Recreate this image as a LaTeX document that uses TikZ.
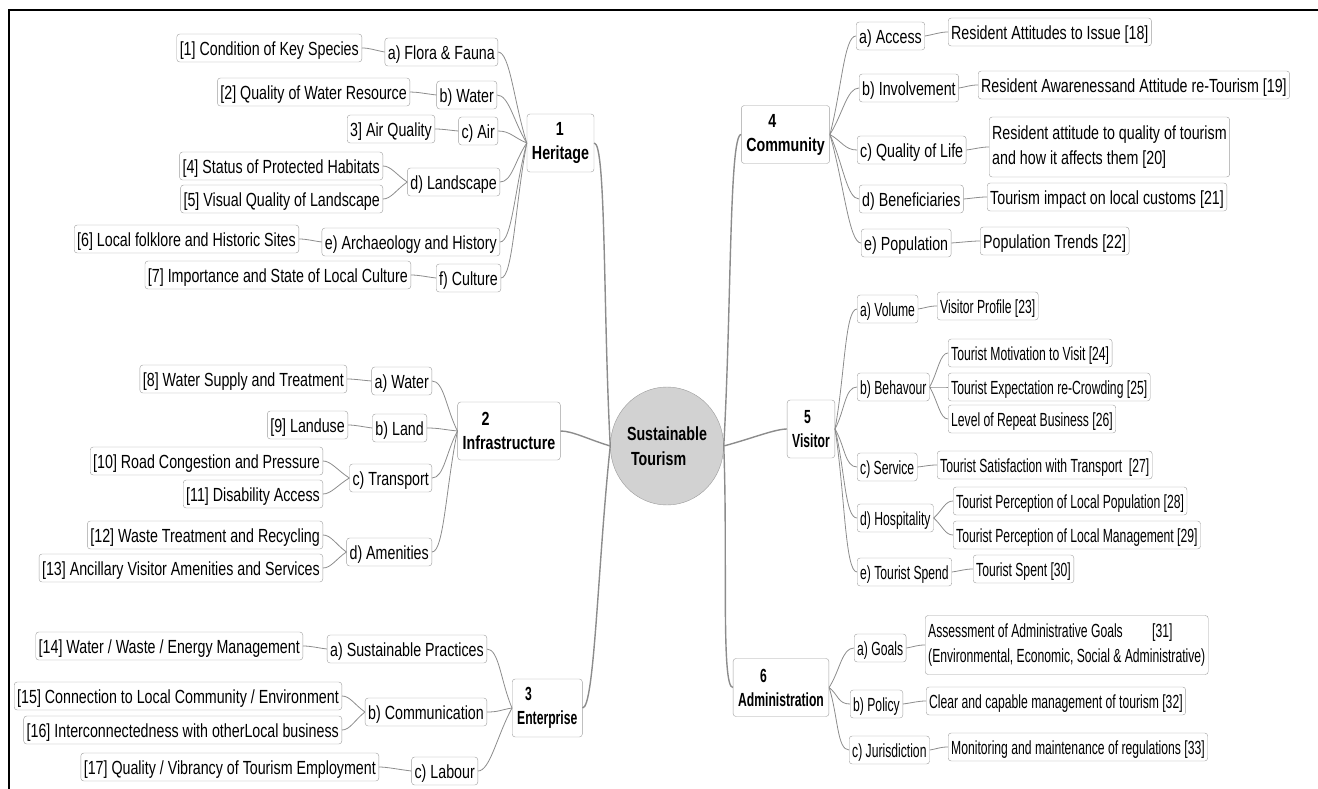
\documentclass[tikz,border=0pt]{standalone}
\usepackage{fontspec}
\setmainfont{Liberation Sans}[FakeStretch=0.75]
\newfontfamily\narrowfont{Liberation Sans}[FakeStretch=0.64]
\usetikzlibrary{calc,shapes.geometric}
\def\fan[#1](#2)(#3)(#4){\draw[#1] (#2) .. controls ($(#2)!0.45!(#3)$) and +(#4,0) .. (#3)}
\tikzset{
	box/.style={draw=gray!75, rounded corners=3pt, fill=white, inner xsep=3pt, inner ysep=2pt, minimum height=28pt, text height=16.5pt, text depth=1.5pt, font=\fontsize{19}{24.5}\selectfont},
	nbox/.style={box, font=\narrowfont\fontsize{19}{24.5}\selectfont},
	twoline/.style={align=left, text height={}, text depth={}},
	topic/.style={box, twoline, minimum height=58pt, inner xsep=5pt, font=\bfseries\fontsize{19}{24}\selectfont},
	ntopic/.style={topic, font=\narrowfont\bfseries\fontsize{19}{24}\selectfont},
	link/.style={draw=gray!90, line width=0.8pt},
	trunk/.style={draw=gray!90, line width=1.4pt}
}

\begin{document}
\begin{tikzpicture}[x=1pt, y=-1pt]
		%%%%% START %%%%%
		\useasboundingbox (0,0) rectangle (1318,789);
		\draw[line width=2.2pt] (9,789) -- (9,10) -- (1318,10);
		
		\node[ellipse, draw=gray!80, fill=gray!35, minimum width=96pt, minimum height=118pt, inner sep=0pt, align=left, font=\bfseries\fontsize{19}{25}\selectfont] (ctr) at (667,446) {Sustainable\\\hspace*{4pt}Tourism};
		
		\node[topic] (her) at (560.5,143) {\hspace*{24pt}1\\Heritage};
		\node[topic] (inf) at (509,431) {\hspace*{19pt}2\\Infrastructure};
		\node[ntopic, anchor=west] (ent) at (512,708) {\hspace*{8pt}3\\Enterprise};
		\node[topic] (com) at (785.5,134.5) {\hspace*{22pt}4\\Community};
		\node[ntopic] (vis) at (811,429) {\hspace*{12pt}5\\Visitor};
		\node[ntopic] (adm) at (781,687.5) {\hspace*{22pt}6\\Administration};
		
		% heritage
		\node[box, anchor=east] (hFlora) at (498,52) {a) Flora \& Fauna};
		\node[box, anchor=east] (hWater) at (497,95) {b) Water};
		\node[box, anchor=east] (hAir) at (498,131) {c) Air};
		\node[box, anchor=east] (hLand) at (500,182) {d) Landscape};
		\node[box, anchor=east] (hArch) at (500,242) {e) Archaeology and History};
		\node[box, anchor=east] (hCult) at (501,278) {f) Culture};
		\node[box, anchor=east] (l1) at (362,48) {[1] Condition of Key Species};
		\node[box, anchor=east] (l2) at (410,92) {[2] Quality of Water Resource};
		\node[box, anchor=east] (l3) at (435,129) {3] Air Quality};
		\node[box, anchor=east] (l4) at (383,166) {[4] Status of Protected Habitats};
		\node[box, anchor=east] (l5) at (383,199) {[5] Visual Quality of Landscape};
		\node[box, anchor=east] (l6) at (299,239) {[6] Local folklore and Historic Sites};
		\node[box, anchor=east] (l7) at (411,275) {[7] Importance and State of Local Culture};
		
		% infrastructure
		\node[box, anchor=east] (iWater) at (432,381) {a) Water};
		\node[box, anchor=east] (iLand) at (427,428) {b) Land};
		\node[box, anchor=east] (iTrans) at (432,478) {c) Transport};
		\node[box, anchor=east] (iAmen) at (432,552) {d) Amenities};
		\node[box, anchor=east] (l8) at (347,379) {[8] Water Supply and Treatment};
		\node[box, anchor=east] (l9) at (348,425) {[9] Landuse};
		\node[box, anchor=east] (l10) at (323,461) {[10] Road Congestion and Pressure};
		\node[box, anchor=east] (l11) at (323,494) {[11] Disability Access};
		\node[box, anchor=east] (l12) at (323,535) {[12] Waste Treatment and Recycling};
		\node[box, anchor=east] (l13) at (323,568) {[13] Ancillary Visitor Amenities and Services};
		
		% enterprise
		\node[box, anchor=east] (eSust) at (487,649) {a) Sustainable Practices};
		\node[box, anchor=east] (eComm) at (487,712) {b) Communication};
		\node[box, anchor=east] (eLab) at (478,771) {c) Labour};
		\node[box, anchor=east] (l14) at (303,646) {[14] Water / Waste / Energy Management};
		\node[box, anchor=east] (l15) at (342,696) {[15] Connection to Local Community / Environment};
		\node[box, anchor=east] (l16) at (342,730) {[16] Interconnectedness with otherLocal business};
		\node[box, anchor=east] (l17) at (379,767) {[17] Quality / Vibrancy of Tourism Employment};
		
		% community
		\node[box, anchor=west] (cAcc) at (856,36) {a) Access};
		\node[box, anchor=west] (cInv) at (859,88) {b) Involvement};
		\node[box, anchor=west] (cQual) at (857,150) {c) Quality of Life};
		\node[box, anchor=west] (cBen) at (859,199) {d) Beneficiaries};
		\node[box, anchor=west] (cPop) at (861,243) {e) Population};
		\node[box, anchor=west] (r18) at (948,32) {Resident Attitudes to Issue [18]};
		\node[box, anchor=west] (r19) at (978,85) {Resident Awarenessand Attitude re-Tourism [19]};
		\node[box, twoline, anchor=west, minimum height=60pt] (r20) at (989,147) {Resident attitude to quality of tourism\\and how it affects them [20]};
		\node[box, anchor=west] (r21) at (987,197) {Tourism impact on local customs [21]};
		\node[box, anchor=west] (r22) at (980,241) {Population Trends [22]};
		
		% visitor
		\node[nbox, anchor=west] (vVol) at (857,309) {a) Volume};
		\node[nbox, anchor=west] (vBeh) at (857,387) {b) Behavour};
		\node[nbox, anchor=west] (vServ) at (857,467) {c) Service};
		\node[nbox, anchor=west] (vHosp) at (857,518) {d) Hospitality};
		\node[nbox, anchor=west] (vSpend) at (857,572) {e) Tourist Spend};
		\node[nbox, anchor=west] (r23) at (937,306) {Visitor Profile [23]};
		\node[nbox, anchor=west] (r24) at (948,353) {Tourist Motivation to Visit [24]};
		\node[nbox, anchor=west] (r25) at (948,387) {Tourist Expectation re-Crowding [25]};
		\node[nbox, anchor=west] (r26) at (948,419) {Level of Repeat Business [26]};
		\node[nbox, anchor=west] (r27) at (937,465) {Tourist Satisfaction with Transport\ \ [27]};
		\node[nbox, anchor=west] (r28) at (953,501) {Tourist Perception of Local Population [28]};
		\node[nbox, anchor=west] (r29) at (953,535) {Tourist Perception of Local Management [29]};
		\node[nbox, anchor=west] (r30) at (973,569) {Tourist Spent [30]};
		
		% administration
		\node[nbox, anchor=west] (aGoal) at (854,648) {a) Goals};
		\node[nbox, anchor=west] (aPol) at (850,704) {b) Policy};
		\node[nbox, anchor=west] (aJur) at (849,750) {c) Jurisdiction};
		\node[nbox, twoline, anchor=west, minimum height=59pt] (r31) at (925,645) {Assessment of Administrative Goals\hspace{26pt} [31]\\(Environmental, Economic, Social \& Administrative)};
		\node[nbox, anchor=west] (r32) at (926,701) {Clear and capable management of tourism [32]};
		\node[nbox, anchor=west] (r33) at (948,747) {Monitoring and maintenance of regulations [33]};
		
		% connectors
		\fan[trunk](ctr.west)(her.east)(12);
		\fan[trunk](ctr.west)(inf.east)(12);
		\fan[trunk](ctr.west)(ent.east)(12);
		\fan[trunk](ctr.east)(com.west)(-12);
		\fan[trunk](ctr.east)(vis.west)(-12);
		\fan[trunk](ctr.east)(adm.west)(-12);
		
		\foreach \n in {hFlora,hWater,hAir,hLand,hArch,hCult} {\fan[link](her.west)(\n.east)(12);}
		\foreach \n in {iWater,iLand,iTrans,iAmen} {\fan[link](inf.west)(\n.east)(12);}
		\foreach \n in {eSust,eComm,eLab} {\fan[link](ent.west)(\n.east)(12);}
		\foreach \n in {cAcc,cInv,cQual,cBen,cPop} {\fan[link](com.east)(\n.west)(-12);}
		\foreach \n in {vVol,vBeh,vServ,vHosp,vSpend} {\fan[link](vis.east)(\n.west)(-12);}
		\foreach \n in {aGoal,aPol,aJur} {\fan[link](adm.east)(\n.west)(-12);}
		
		\foreach \a/\b in {hFlora/l1,hWater/l2,hAir/l3,hLand/l4,hLand/l5,hArch/l6,hCult/l7,iWater/l8,iLand/l9,iTrans/l10,iTrans/l11,iAmen/l12,iAmen/l13,eSust/l14,eComm/l15,eComm/l16,eLab/l17} {\fan[link](\a.west)(\b.east)(8);}
		\foreach \a/\b in {cAcc/r18,cInv/r19,cQual/r20,cBen/r21,cPop/r22,vVol/r23,vBeh/r24,vBeh/r25,vBeh/r26,vServ/r27,vHosp/r28,vHosp/r29,vSpend/r30,aGoal/r31,aPol/r32,aJur/r33} {\fan[link](\a.east)(\b.west)(-8);}
		
		%%%%% END %%%%%
	\end{tikzpicture}
\end{document}
